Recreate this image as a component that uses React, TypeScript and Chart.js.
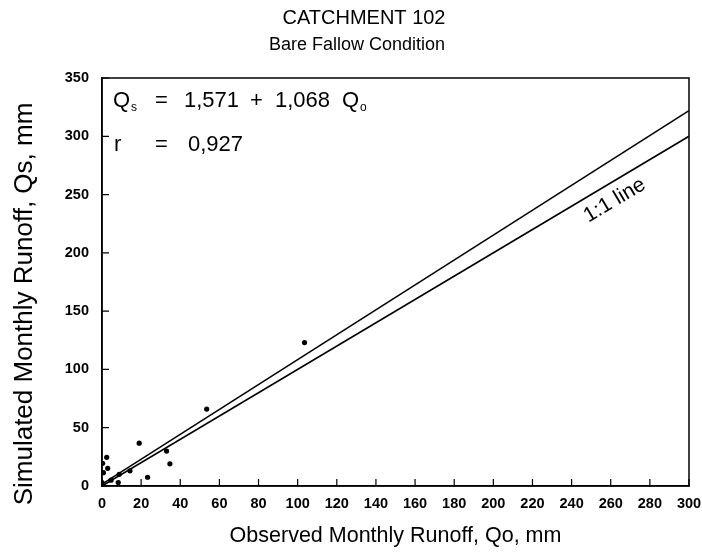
import React, { useEffect, useRef } from 'react';
import { Chart, registerables } from 'chart.js';

Chart.register(...registerables);

// ---- data ----
const observedQo = [0.3, 2.4, 2.9, 0.7, 0, 4.6, 8.3, 8.8, 14.3, 19, 23.3, 33, 34.7, 53.5, 103.5];
const simulatedQs = [19.5, 24.6, 15.2, 11.4, 3, 5, 3, 10, 13, 36.7, 7.5, 30, 19, 66, 123];
const fitLineX = [0, 300];
const fitLineY = [1.571, 321.97];
const oneToOneX = [0, 300];
const oneToOneY = [0, 300];
const xTicks = [0, 20, 40, 60, 80, 100, 120, 140, 160, 180, 200, 220, 240, 260, 280, 300];
const yTicks = [0, 50, 100, 150, 200, 250, 300, 350];
const titleLines = ['CATCHMENT 102', 'Bare Fallow Condition'];
const xTitle = 'Observed Monthly Runoff, Qo, mm';
const yTitle = 'Simulated Monthly Runoff, Qs, mm';
const oneToOneLabel = '1:1 line';
const labelPos = { x: 262, y: 245 };

const FONT = '"Liberation Sans", Arial, Helvetica, sans-serif';

const decorPlugin = {
  id: 'decor',
  afterDraw(chart: any) {
    const { ctx, chartArea } = chart;
    const xs = chart.scales.x;
    const ys = chart.scales.y;
    const { left, right, top, bottom } = chartArea;
    ctx.save();
    ctx.strokeStyle = '#000';
    ctx.fillStyle = '#000';
    // frame
    ctx.lineWidth = 1.5;
    ctx.strokeRect(left, top, right - left, bottom - top);
    // inward ticks
    ctx.lineWidth = 1.2;
    ctx.beginPath();
    xTicks.forEach((v) => {
      const px = xs.getPixelForValue(v);
      ctx.moveTo(px, bottom);
      ctx.lineTo(px, bottom - 7);
    });
    yTicks.forEach((v) => {
      const py = ys.getPixelForValue(v);
      ctx.moveTo(left, py);
      ctx.lineTo(left + 7, py);
    });
    ctx.stroke();

    // titles
    ctx.textAlign = 'center';
    ctx.textBaseline = 'middle';
    ctx.font = `20px ${FONT}`;
    ctx.fillText(titleLines[0], 364, 18);
    ctx.font = `18px ${FONT}`;
    ctx.fillText(titleLines[1], 357, 45);

    // y axis title
    ctx.save();
    ctx.translate(25, 304);
    ctx.rotate(-Math.PI / 2);
    ctx.font = `26px ${FONT}`;
    ctx.fillText(yTitle, 0, 0);
    ctx.restore();

    // equation
    ctx.textAlign = 'left';
    ctx.textBaseline = 'alphabetic';
    const big = `22px ${FONT}`;
    const small = `12px ${FONT}`;
    const y1 = top + 29;
    const y2 = top + 73;
    ctx.font = big;
    ctx.fillText('Q', left + 11, y1);
    let qw = ctx.measureText('Q').width;
    ctx.font = small;
    ctx.fillText('s', left + 11 + qw + 1, y1 + 4);
    ctx.font = big;
    ctx.fillText('=', left + 53, y1);
    ctx.fillText('1,571', left + 82, y1);
    ctx.fillText('+', left + 148, y1);
    ctx.fillText('1,068', left + 173, y1);
    ctx.fillText('Q', left + 240, y1);
    qw = ctx.measureText('Q').width;
    ctx.font = small;
    ctx.fillText('o', left + 240 + qw + 1, y1 + 4);
    ctx.font = big;
    ctx.fillText('r', left + 12, y2);
    ctx.fillText('=', left + 53, y2);
    ctx.fillText('0,927', left + 86, y2);

    // 1:1 label
    const ax = xs.getPixelForValue(oneToOneX[0]);
    const ay = ys.getPixelForValue(oneToOneY[0]);
    const bx = xs.getPixelForValue(oneToOneX[1]);
    const by = ys.getPixelForValue(oneToOneY[1]);
    const ang = Math.atan2(by - ay, bx - ax);
    ctx.translate(xs.getPixelForValue(labelPos.x), ys.getPixelForValue(labelPos.y));
    ctx.rotate(ang);
    ctx.textAlign = 'center';
    ctx.textBaseline = 'middle';
    ctx.font = `21px ${FONT}`;
    ctx.fillText(oneToOneLabel, 0, 0);
    ctx.restore();
  },
};

export default function App() {
  const ref = useRef<HTMLCanvasElement | null>(null);
  useEffect(() => {
    document.body.style.margin = '0';
    const canvas = ref.current;
    if (!canvas) return;
    const points = observedQo.map((x, i) => ({ x, y: simulatedQs[i] }));
    const fit = fitLineX.map((x, i) => ({ x, y: fitLineY[i] }));
    const one = oneToOneX.map((x, i) => ({ x, y: oneToOneY[i] }));
    const tickFont = { family: FONT, size: 14.5, weight: 'bold' as const };
    const chart = new Chart(canvas, {
      type: 'scatter',
      data: {
        datasets: [
          {
            data: points,
            pointRadius: 2.6,
            pointBackgroundColor: '#000',
            pointBorderWidth: 0,
            showLine: false,
          },
          {
            data: fit,
            showLine: true,
            pointRadius: 0,
            borderColor: '#000',
            borderWidth: 1.6,
            fill: false,
          },
          {
            data: one,
            showLine: true,
            pointRadius: 0,
            borderColor: '#000',
            borderWidth: 1.6,
            fill: false,
          },
        ],
      },
      options: {
        animation: false,
        responsive: false,
        devicePixelRatio: 1,
        layout: { padding: { top: 78, right: 13, left: 0, bottom: 0 } },
        plugins: { legend: { display: false }, tooltip: { enabled: false }, title: { display: false } },
        scales: {
          x: {
            type: 'linear',
            min: 0,
            max: 300,
            afterBuildTicks: (s: any) => {
              s.ticks = xTicks.map((v) => ({ value: v }));
            },
            grid: { display: false, drawTicks: false },
            border: { display: true, color: '#000', width: 1.5 },
            ticks: { color: '#000', font: tickFont, padding: 9, maxRotation: 0, autoSkip: false },
            title: {
              display: true,
              text: xTitle,
              color: '#000',
              font: { family: FONT, size: 21.5 },
              padding: { top: 0, bottom: 3 },
            },
            afterFit: (s: any) => {
              s.height = 66;
              s.paddingLeft = 0;
              s.paddingRight = 0;
            },
          },
          y: {
            type: 'linear',
            min: 0,
            max: 350,
            afterBuildTicks: (s: any) => {
              s.ticks = yTicks.map((v) => ({ value: v }));
            },
            grid: { display: false, drawTicks: false },
            border: { display: true, color: '#000', width: 1.5 },
            ticks: { color: '#000', font: tickFont, padding: 13, autoSkip: false },
            title: { display: false },
            afterFit: (s: any) => {
              s.width = 102;
              s.paddingTop = 0;
              s.paddingBottom = 0;
            },
          },
        },
      },
      plugins: [decorPlugin],
    });
    return () => chart.destroy();
  }, []);
  return <canvas ref={ref} width={702} height={552} style={{ display: 'block', width: 702, height: 552 }} />;
}
